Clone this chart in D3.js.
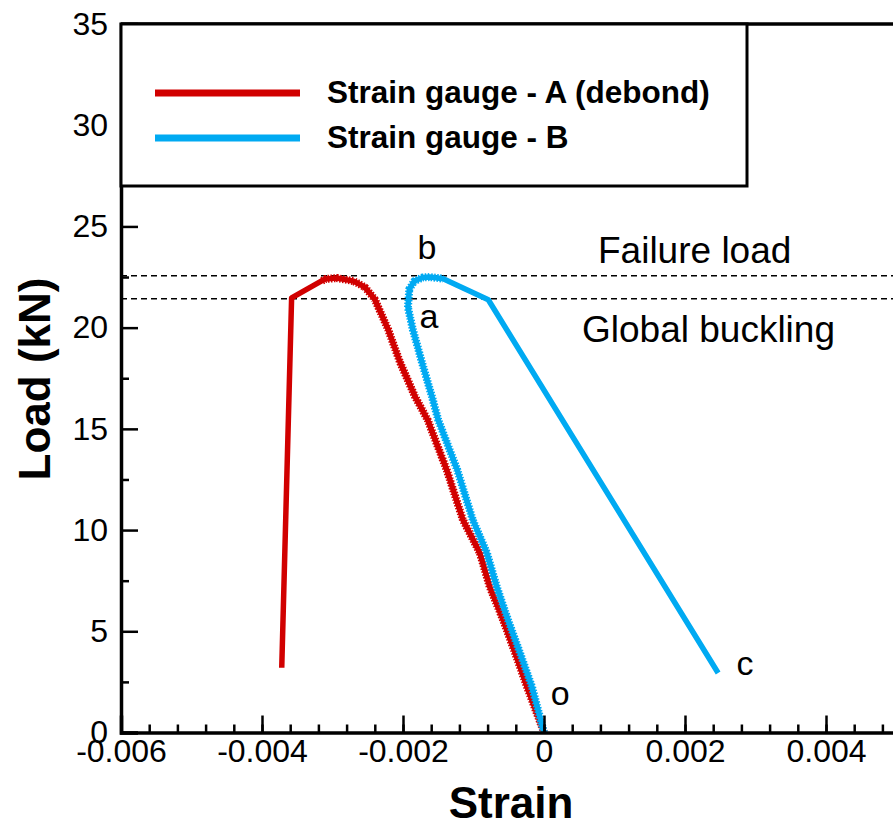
<!DOCTYPE html>
<html>
<head>
<meta charset="utf-8">
<script src="https://cdn.jsdelivr.net/npm/d3@7"></script>
<style>
  html, body { margin: 0; padding: 0; background: #fff; }
  svg { display: block; }
  text { font-family: "Liberation Sans", Arial, sans-serif; fill: #000; }
</style>
</head>
<body>
<svg id="chart" width="893" height="827"></svg>
<script>
// Strain gauge readings: strain (x) vs load in kN (y)
const gaugeAStrain = [0, -0.00024, -0.00041, -0.00058, -0.00077, -0.00091, -0.00115, -0.00138, -0.00165, -0.00183, -0.00204, -0.00221, -0.0024, -0.00254, -0.0027, -0.00294, -0.0031, -0.00316, -0.00358, -0.00372];
const gaugeALoad   = [0, 2.25, 3.93, 5.56, 7.2, 8.87, 10.5, 12.97, 15.44, 16.6, 18.27, 19.9, 21.4, 22.0, 22.3, 22.45, 22.4, 22.3, 21.47, 3.2];

const gaugeBStrain = [0, -0.00017, -0.00034, -0.00051, -0.00067, -0.00081, -0.00101, -0.00123, -0.0015, -0.00159, -0.00173, -0.00186, -0.00193, -0.00191, -0.00184, -0.00172, -0.00162, -0.00143, -0.00079, 0.00247];
const gaugeBLoad   = [0, 2.25, 3.93, 5.56, 7.2, 8.87, 10.5, 12.97, 15.44, 16.6, 18.27, 19.9, 21.0, 21.9, 22.3, 22.48, 22.5, 22.42, 21.38, 2.94];

// Number of leading points logged densely (drawn with a serrated trace)
const denseCounts = [18, 18];

const seriesNames = ["Strain gauge - A (debond)", "Strain gauge - B"];

// Reference load levels
const failureLoad = 22.56;
const bucklingLoad = 21.43;

// Axis ticks
const xMajorTicks = [-0.006, -0.004, -0.002, 0, 0.002, 0.004];
const xMinorTicks = d3.range(-0.006, 0.0050001, 0.0004).map(v => +v.toFixed(4));
const yMajorTicks = [0, 5, 10, 15, 20, 25, 30, 35];
const yMinorTicks = [2.5, 7.5, 12.5, 17.5, 22.5, 27.5, 32.5];

// Point labels along the curves: [text, strain, load]
const pointLabels = [
  ["o", 0.00023, 1.35],
  ["b", -0.00166, 23.4],
  ["a", -0.00163, 20.0],
  ["c", 0.00285, 2.84]
];

const svg = d3.select("#chart");
const plotLeft = 121, plotRight = 896.5, plotTop = 24, plotBottom = 732.5;

const x = d3.scaleLinear().domain([-0.006, 0.005]).range([plotLeft, plotRight]);
const y = d3.scaleLinear().domain([0, 35]).range([plotBottom, plotTop]);

const colors = ["#d10000", "#00aaf2"];

// Dashed reference lines
[failureLoad, bucklingLoad].forEach(v => {
  svg.append("line")
    .attr("x1", plotLeft).attr("x2", 893)
    .attr("y1", y(v)).attr("y2", y(v))
    .attr("stroke", "#000").attr("stroke-width", 1.4)
    .attr("stroke-dasharray", "6,4");
});

// Curves
const line = d3.line().x(d => x(d[0])).y(d => y(d[1]));
const seriesData = [
  d3.zip(gaugeAStrain, gaugeALoad),
  d3.zip(gaugeBStrain, gaugeBLoad)
];
seriesData.forEach((data, i) => {
  svg.append("path")
    .datum(data)
    .attr("d", line)
    .attr("fill", "none")
    .attr("stroke", colors[i])
    .attr("stroke-width", 5.5)
    .attr("stroke-linejoin", "round");
  // serrated edge on the densely logged part
  svg.append("path")
    .datum(data.slice(0, denseCounts[i]))
    .attr("d", line)
    .attr("fill", "none")
    .attr("stroke", colors[i])
    .attr("stroke-width", 8)
    .attr("stroke-dasharray", "1.5,1.5")
    .attr("stroke-linejoin", "round");
});

// Axes with inward ticks
const xAxis = svg.append("g").attr("transform", `translate(0,${plotBottom})`)
  .call(d3.axisBottom(x).tickValues(xMajorTicks).tickSize(-17).tickPadding(7)
    .tickFormat(v => v === 0 ? "0" : v.toFixed(3)));
svg.append("g").attr("transform", `translate(0,${plotBottom})`)
  .call(d3.axisBottom(x).tickValues(xMinorTicks).tickSize(-8).tickFormat(""))
  .call(g => g.select(".domain").remove());

const yAxis = svg.append("g").attr("transform", `translate(${plotLeft},0)`)
  .call(d3.axisLeft(y).tickValues(yMajorTicks).tickSize(-17).tickPadding(13));
svg.append("g").attr("transform", `translate(${plotLeft},0)`)
  .call(d3.axisLeft(y).tickValues(yMinorTicks).tickSize(-8).tickFormat(""))
  .call(g => g.select(".domain").remove());

svg.selectAll(".tick line").attr("stroke", "#000").attr("stroke-width", 2.5);
[xAxis, yAxis].forEach(g => {
  g.select(".domain").attr("stroke", "#000").attr("stroke-width", 3.5);
  g.selectAll(".tick text")
    .style("font-family", "'Liberation Sans', Arial, sans-serif")
    .style("font-size", "32px").attr("fill", "#000");
});

// Frame top and right
svg.append("line").attr("x1", plotLeft).attr("x2", plotRight).attr("y1", plotTop).attr("y2", plotTop)
  .attr("stroke", "#000").attr("stroke-width", 3.5);
svg.append("line").attr("x1", plotRight).attr("x2", plotRight).attr("y1", plotTop).attr("y2", plotBottom)
  .attr("stroke", "#000").attr("stroke-width", 3.5);

// Legend box
svg.append("rect")
  .attr("x", plotLeft).attr("y", plotTop)
  .attr("width", 747 - plotLeft).attr("height", 186 - plotTop)
  .attr("fill", "#fff").attr("stroke", "#000").attr("stroke-width", 3);

seriesNames.forEach((name, i) => {
  const ly = 93 + i * 45;
  svg.append("line")
    .attr("x1", 155).attr("x2", 300).attr("y1", ly).attr("y2", ly)
    .attr("stroke", colors[i]).attr("stroke-width", 7);
  svg.append("text")
    .attr("x", 327).attr("y", ly + 10)
    .attr("font-size", 31.5).attr("font-weight", "bold")
    .text(name);
});

// Annotations
svg.append("text").attr("x", 598).attr("y", 263).attr("font-size", 37).text("Failure load");
svg.append("text").attr("x", 582).attr("y", 342).attr("font-size", 37).text("Global buckling");

pointLabels.forEach(([t, sx, ld]) => {
  svg.append("text").attr("x", x(sx)).attr("y", y(ld))
    .attr("font-size", 34).attr("text-anchor", "middle").text(t);
});

// Axis titles
svg.append("text")
  .attr("x", 511).attr("y", 818)
  .attr("text-anchor", "middle")
  .attr("font-size", 44).attr("font-weight", "bold")
  .text("Strain");

svg.append("text")
  .attr("transform", "translate(50,379) rotate(-90)")
  .attr("text-anchor", "middle")
  .attr("font-size", 44).attr("font-weight", "bold")
  .text("Load (kN)");
</script>
</body>
</html>
